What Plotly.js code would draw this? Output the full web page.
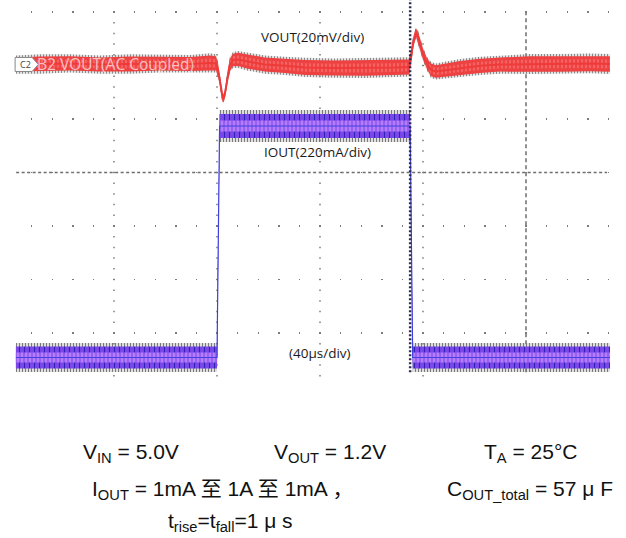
<!DOCTYPE html>
<html>
<head>
<meta charset="utf-8">
<script src="https://cdn.plot.ly/plotly-3.0.1.min.js"></script>
<style>
  html, body { margin: 0; padding: 0; background: #ffffff; }
  #plot { width: 626px; height: 538px; }
</style>
</head>
<body>
<div id="plot"></div>
<script>
// VOUT (AC coupled) — time in µs, centre of the noise band in mV, half-width of the band in mV
const voutTime  = [-78.1, -68.7, -57.1, -45.4, -33.8, -22.1, -10.5, -2.7, -0.4, 0.4, 1.2, 1.9, 2.3, 2.9, 3.5, 4.3, 5.0, 6.2, 8.2, 12.0, 18.6, 26.4, 34.2, 45.8, 57.5, 69.1, 74.6, 75.3, 76.1, 76.9, 77.3, 77.9, 78.8, 80.0, 81.6, 83.1, 85.0, 88.5, 94.4, 102.1, 109.9, 121.6, 133.2, 144.9, 152.6];
const voutMv    = [-0.2, 0.0, 0.2, -0.2, 0.0, 0.2, 0.0, 0.4, 0.2, -2.2, -6.7, -12.0, -13.1, -12.0, -8.2, -3.7, -0.4, 1.5, 1.7, 0.9, -0.2, -0.7, -1.3, -1.5, -1.5, -1.3, -1.1, 2.2, 7.5, 10.8, 11.6, 10.8, 7.9, 3.7, 0.0, -2.2, -2.8, -2.4, -1.5, -0.7, -0.2, 0.0, 0.0, 0.2, 0.0];
const voutNoise = [3.4, 3.6, 3.4, 3.4, 3.6, 3.4, 3.4, 3.6, 3.4, 3.0, 2.2, 1.7, 1.5, 1.7, 2.2, 2.6, 3.0, 3.0, 3.2, 3.4, 3.4, 3.4, 3.6, 3.6, 3.7, 3.6, 3.6, 3.0, 2.6, 2.2, 1.9, 2.2, 2.6, 2.6, 2.6, 3.0, 3.0, 3.2, 3.4, 3.4, 3.4, 3.7, 3.7, 3.7, 3.7];

// IOUT load step 1mA -> 1A -> 1mA, tr = tf = 1 µs — time in µs, current in mA, band half-width in mA
const ioutTime  = [-78.1, -40, 0, 1, 40, 75, 76, 110, 152.6];
const ioutMa    = [1, 1, 1, 1000, 1000, 1000, 1, 1, 1];
const ioutNoise = [63, 63, 63, 69, 69, 69, 63, 63, 63];

// on-screen labels
const voutLabel = 'VOUT(20mV/div)';
const ioutLabel = 'IOUT(220mA/div)';
const timeLabel = '(40µs/div)';
const channelTag = 'C2';
const channelName = 'B2 VOUT(AC Coupled)';
const conditions = [
  ['V<sub>IN</sub> = 5.0V', 'V<sub>OUT</sub> = 1.2V', 'T<sub>A</sub> = 25°C'],
  ['I<sub>OUT</sub> = 1mA 至 1A 至 1mA ，', 'C<sub>OUT_total</sub> = 57 μ F'],
  ['t<sub>rise</sub>=t<sub>fall</sub>=1 μ s']
];

// screen graticule: 40 µs per horizontal division
const timeDiv = 40;
const xRange = [-79.61, 154.95];

// closed polygon around a trace: centre ± k·halfwidth
function band(t, mid, half, k) {
  const up = mid.map((m, i) => m + k * half[i]);
  const lo = mid.map((m, i) => m - k * half[i]);
  return {
    x: t.concat(t.slice().reverse()),
    y: up.concat(lo.reverse())
  };
}

// one filled layer of a noisy trace
function layer(poly, axis, fill, pattern) {
  const tr = {
    x: poly.x, y: poly.y, yaxis: axis, type: 'scatter', mode: 'lines', fill: 'toself',
    line: { width: 0, color: 'rgba(0,0,0,0)' }, hoverinfo: 'skip', showlegend: false
  };
  if (fill) tr.fillcolor = fill;
  if (pattern) tr.fillpattern = pattern;
  return tr;
}

const traces = [
  // VOUT: grey noise spikes, red body, lighter core
  layer(band(voutTime, voutMv, voutNoise, 1.0), 'y2', 'rgba(0,0,0,0)',
        { shape: '|', fgcolor: '#8a8a8a', size: 3, solidity: 0.5 }),
  layer(band(voutTime, voutMv, voutNoise, 0.78), 'y2', '#ee4242', null),
  layer(band(voutTime, voutMv, voutNoise, 0.45), 'y2', '#f04848',
        { shape: '|', fgcolor: '#ff8f8f', bgcolor: '#ef4444', size: 4, solidity: 0.2 }),
  { x: voutTime, y: voutMv, yaxis: 'y2', type: 'scatter', mode: 'lines',
    line: { width: 2, color: '#ef3a3a' }, hoverinfo: 'skip', showlegend: false },

  // IOUT: grey noise spikes, dark blue / violet body, lavender core
  layer(band(ioutTime, ioutMa, ioutNoise, 1.0), 'y3', 'rgba(0,0,0,0)',
        { shape: '|', fgcolor: '#7a7a7a', size: 3, solidity: 0.5 }),
  layer(band(ioutTime, ioutMa, ioutNoise, 0.75), 'y3', '#7444e6',
        { shape: '|', fgcolor: '#3322b4', bgcolor: '#7a48ea', size: 5, solidity: 0.22 }),
  layer(band(ioutTime, ioutMa, ioutNoise, 0.35), 'y3', '#a36cf5',
        { shape: '|', fgcolor: '#caa0fb', bgcolor: '#9a5ef4', size: 4, solidity: 0.25 }),
  { x: ioutTime, y: ioutMa, yaxis: 'y3', type: 'scatter', mode: 'lines',
    line: { width: 1.2, color: '#4040e0' }, hoverinfo: 'skip', showlegend: false }
];

const labelFont = { family: 'Open Sans, Noto Sans, sans-serif', size: 13.5, color: '#1a1a1a' };
const condFont = { family: 'Liberation Sans, Arial, Noto Sans CJK SC, sans-serif', size: 21, color: '#111111' };

function note(text, x, y, font, refs) {
  return Object.assign({ text: text, x: x, y: y, xref: 'paper', yref: 'paper',
    xanchor: 'center', yanchor: 'middle', showarrow: false, font: font }, refs || {});
}

const annotations = [
  note(voutLabel, 0.498, 0.917, labelFont),
  note(ioutLabel, 0.505, 0.610, labelFont),
  note(timeLabel, 0.510, 0.072, labelFont),
  note(channelName, -39.6, 6.02, { family: 'Open Sans, sans-serif', size: 15.5, color: 'rgba(255,236,236,0.72)' },
       { xref: 'x', yref: 'y' }),
  note(channelTag, -74.4, 6.02, { family: 'Open Sans, sans-serif', size: 9, color: '#444444' },
       { xref: 'x', yref: 'y' }),

  note(conditions[0][0], 0.197, -0.195, condFont),
  note(conditions[0][1], 0.527, -0.195, condFont),
  note(conditions[0][2], 0.858, -0.195, condFont),
  note(conditions[1][0], 0.349, -0.294, condFont),
  note(conditions[1][1], 0.857, -0.294, condFont),
  note(conditions[2][0], 0.361, -0.380, condFont)
];

const shapes = [];
// dotted vertical graticule lines at each time division (the 120 µs one is the dashed centre line)
for (let t = Math.ceil(xRange[0] / timeDiv) * timeDiv; t <= xRange[1]; t += timeDiv) {
  if (t === 120) continue;
  shapes.push({ type: 'line', xref: 'x', yref: 'paper', x0: t, x1: t, y0: 0, y1: 1, layer: 'below',
    line: { color: '#7c7c7c', width: 1.5, dash: '0px,3.45px,1.5px,5.75px' } });
}
shapes.push(
  // centre crosshair (dashed)
  { type: 'line', xref: 'x', yref: 'y', x0: -78, x1: 151.5, y0: 4, y1: 4, layer: 'below',
    line: { color: '#6e6e6e', width: 1.5, dash: '3px,2.5px' } },
  { type: 'line', xref: 'x', yref: 'paper', x0: 120, x1: 120, y0: 0.021, y1: 0.989, layer: 'below',
    line: { color: '#6e6e6e', width: 1.5, dash: '4px,3px' } },
  // time cursor
  { type: 'line', xref: 'x', yref: 'paper', x0: 75, x1: 75, y0: 0.021, y1: 1.016, layer: 'above',
    line: { color: '#2a2d55', width: 2.5, dash: '2px,2px' } },
  // channel tag
  { type: 'path', xref: 'x', yref: 'y', layer: 'above',
    path: 'M -78.4,6.150 L -71.8,6.150 L -69.4,6.019 L -71.8,5.888 L -78.4,5.888 Z',
    fillcolor: '#ffffff', line: { color: '#8a8a8a', width: 1 } }
);

const layout = {
  width: 626, height: 538,
  margin: { l: 12, r: 10, t: 6, b: 158 },
  paper_bgcolor: '#ffffff', plot_bgcolor: '#ffffff',
  showlegend: false,
  xaxis: {
    range: xRange, tickmode: 'linear', tick0: 0, dtick: timeDiv,
    showticklabels: false, ticks: '', zeroline: false, showline: false, showgrid: false
  },
  yaxis: {
    range: [0.1215, 7.112], tickmode: 'array', tickvals: [1, 2, 3, 4, 5, 6, 7],
    showticklabels: false, ticks: '', zeroline: false, showline: false,
    showgrid: true, gridcolor: '#7c7c7c', gridwidth: 1.5, griddash: '0px,18.9px,1.5px,0.2px'
  },
  yaxis2: { overlaying: 'y', range: [-118.13, 21.68], visible: false },
  yaxis3: { overlaying: 'y', range: [-96.1, 1517.8], visible: false },
  annotations: annotations,
  shapes: shapes
};

Plotly.newPlot('plot', traces, layout, { staticPlot: true, displayModeBar: false });
</script>
</body>
</html>
